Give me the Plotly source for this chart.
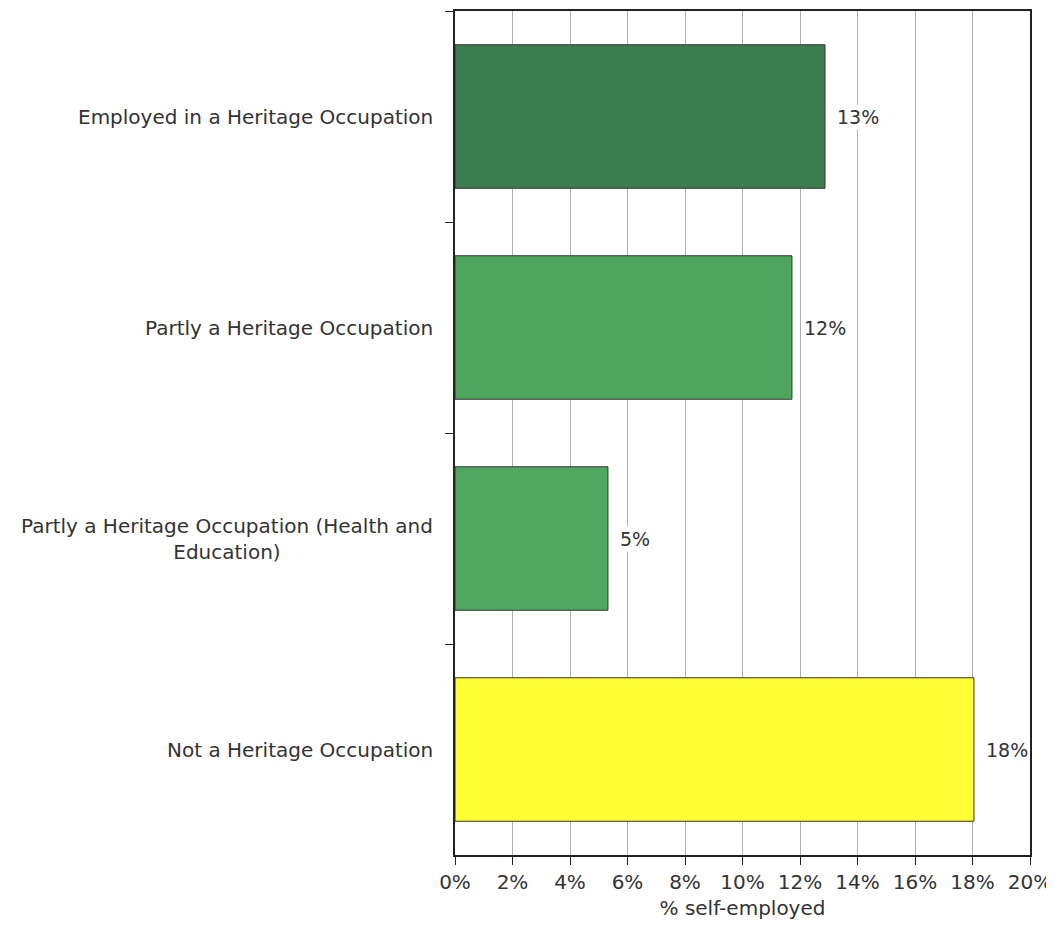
import plotly.graph_objects as go

categories = [
    "Employed in a Heritage Occupation",
    "Partly a Heritage Occupation",
    "Partly a Heritage Occupation (Health and<br>Education)",
    "Not a Heritage Occupation",
]
values = [12.87, 11.72, 5.32, 18.05]
bar_colors = ["#3b7d4e", "#4ea65e", "#4fa85f", "#ffff33"]
x_ticks = list(range(0, 21, 2))
x_tick_labels = [f"{t}%" for t in x_ticks]
value_labels = [f"{round(v)}%" for v in values]

FONT = "DejaVu Sans"
TXT = "#333333"

fig = go.Figure()
fig.add_trace(go.Bar(
    y=categories, x=values, orientation="h",
    marker=dict(color=bar_colors, line=dict(color="#333333", width=1)),
    hoverinfo="skip",
))

annotations = []
for c, v, lab in zip(categories, values, value_labels):
    annotations.append(dict(
        x=v, y=c, xref="x", yref="y", text=lab, showarrow=False,
        xanchor="left", xshift=10, bgcolor="white",
        font=dict(family=FONT, size=19, color=TXT),
    ))
    annotations.append(dict(
        x=0, y=c, xref="paper", yref="y", text=c, showarrow=False,
        xanchor="right", xshift=-20, align="center",
        font=dict(family=FONT, size=20, color=TXT),
    ))

fig.update_layout(
    width=1046, height=918,
    margin=dict(l=447, r=24, t=1, b=71),
    paper_bgcolor="white", plot_bgcolor="white",
    bargap=0.32,
    showlegend=False,
    annotations=annotations,
    xaxis=dict(
        range=[0, 20], tickvals=x_ticks, ticktext=x_tick_labels,
        showgrid=True, gridcolor="#b0b0b0", gridwidth=1,
        showline=True, linecolor="#222222", linewidth=2, mirror=True,
        ticks="outside", ticklen=8, tickcolor="#222222",
        tickfont=dict(family=FONT, size=20, color=TXT),
        title=dict(text="% self-employed", font=dict(family=FONT, size=20, color=TXT), standoff=8),
        zeroline=False, fixedrange=True,
    ),
    yaxis=dict(
        autorange="reversed", showticklabels=False,
        tickson="boundaries", ticks="outside", ticklen=8, tickcolor="#222222",
        showline=True, linecolor="#222222", linewidth=2, mirror=True,
        showgrid=False, fixedrange=True,
    ),
)

fig.write_html("out.html")
